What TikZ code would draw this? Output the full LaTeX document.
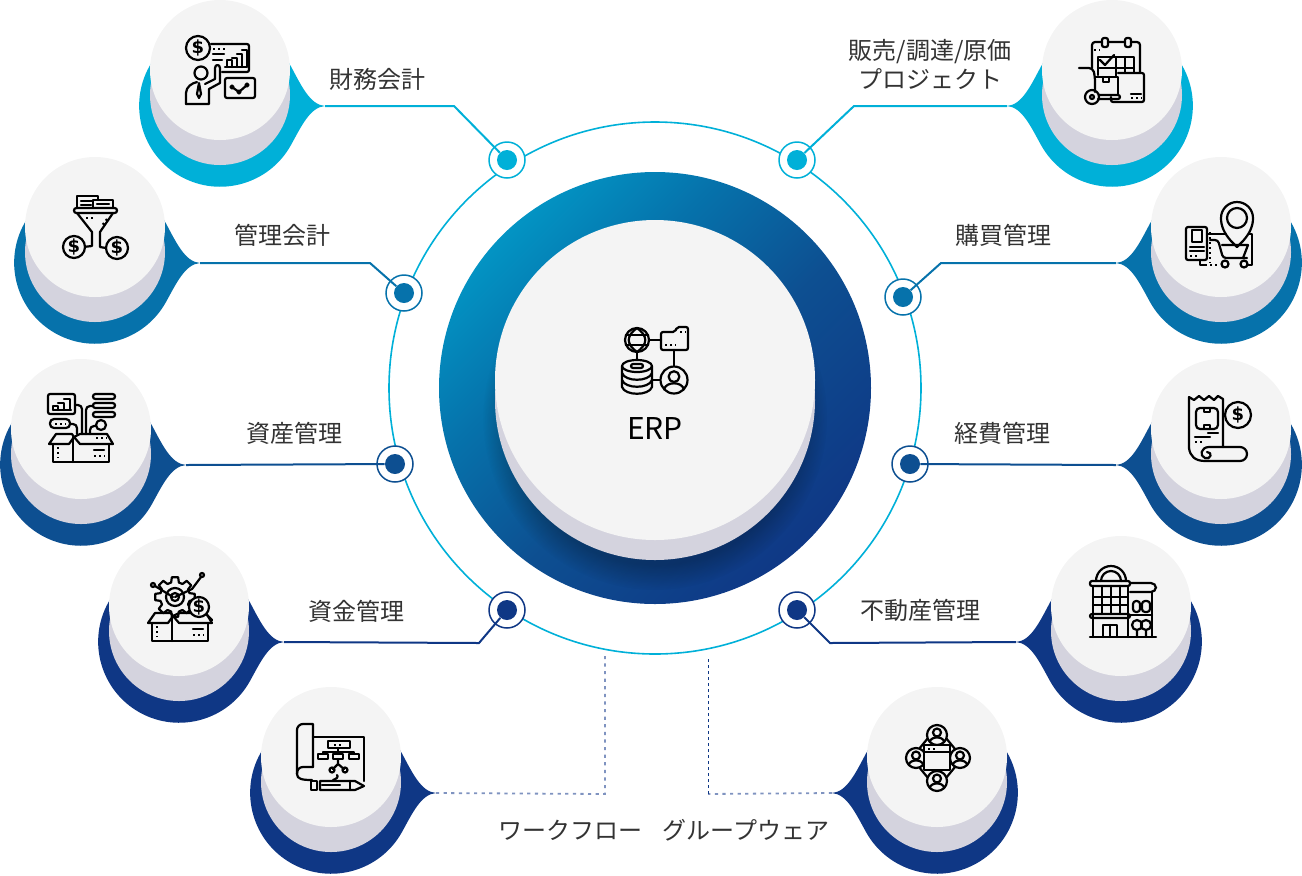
\documentclass[tikz,border=0pt]{standalone}
\usepackage{fontspec}
\setmainfont{Noto Sans CJK JP}
\newfontfamily\usdfont{DejaVu Sans}
\usetikzlibrary{fadings}
\definecolor{cyanb}{HTML}{00B0D8}
\definecolor{blueb}{HTML}{0672AB}
\definecolor{navyb}{HTML}{0D4F91}
\definecolor{deepb}{HTML}{0F3785}
\definecolor{greyb}{HTML}{D4D3DE}
\definecolor{paleb}{HTML}{F4F4F4}
\definecolor{inkb}{HTML}{333333}
\definecolor{laneb}{HTML}{7F93C0}
\pgfdeclareverticalshading{hubfade}{100bp}{
  color(0bp)=(deepb); color(24bp)=(deepb); color(46bp)=(navyb);
  color(62bp)=(blueb); color(86bp)=(cyanb); color(100bp)=(cyanb)}

% name, x, y, side, colour
\newcommand{\badge}[5]{%
  \begin{scope}[shift={(#2,#3)},xscale=#4]
    \fill[#5] (105,36) .. controls (90,37) and (81,57) .. (71,75) arc (29:331:81)
      .. controls (81,15) and (90,35) .. (105,36) -- cycle;
    \fill[greyb] (0,25) circle [radius=70];
    \coordinate (#1) at (105,36);
  \end{scope}
  \node[disc] (#1disc) at (#2,#3) {};}
% name, x, y, radius
\newcommand{\coin}[4]{%
  \draw[ico, fill=paleb] (#2,#3) circle [radius=#4];
  \node[usd] (#1) at (#2,#3) {\$};}
% x, y, radius
\newcommand{\usr}[3]{%
  \begin{scope}[shift={(#1,#2)},scale=#3]
    \draw[ico, fill=paleb] (0,0) circle [radius=1];
    \draw[ico] (0,-.25) circle [radius=.4];
    \draw[ico] (-.72,.68) .. controls (-.6,.1) and (.6,.1) .. (.72,.68);
  \end{scope}}
% x of the fold, y of the top
\newcommand{\crate}[2]{%
  \begin{scope}[shift={(#1,#2)}]
    \draw[ico, fill=paleb] (-20,10) -- (-20,28) -- (36,28) -- (36,10);
    \draw[ico] (-24,10) -- (-17,0) -- (-1,0) -- (1,3) -- (-4,10) -- cycle;
    \draw[ico] (1,3) -- (7,0) -- (34,0) -- (40,10) -- (7,10) -- cycle;
    \draw[ico] (0,3) -- (0,28);
    \draw[dotty] (-15,13) -- (-15,24);
    \draw[ico] (21,16) -- (31,16);
    \draw[dotty] (21,22) -- (32,22);
  \end{scope}}

\begin{document}
\begin{tikzpicture}[
    x=.5pt, y=-.5pt,
    disc/.style={circle, fill=paleb, minimum size=70pt, inner sep=0pt},
    lab/.style={font=\fontsize{12}{14.5}\selectfont, text=inkb, align=center, inner sep=0pt},
    halo/.style={circle, draw=#1, fill=white, line width=.75pt, minimum size=18pt, inner sep=0pt},
    pip/.style={circle, fill=#1, minimum size=10pt, inner sep=0pt},
    link/.style={draw=#1, line width=1pt},
    ico/.style={draw=black, line width=1.1pt, line join=round, line cap=round},
    dotty/.style={draw=black, line width=1.1pt, dash pattern=on 1pt off 1.5pt},
    usd/.style={font=\usdfont\bfseries\fontsize{9}{9}\selectfont, text=black, inner sep=0pt},
    lane/.style={draw=laneb, line width=.9pt, dash pattern=on 1.6pt off 2.2pt}
  ]
  \useasboundingbox (0,0) rectangle (1302,875);

  \draw[cyanb, line width=.8pt] (655,388) circle [radius=266];

  \path[shading=hubfade, shading angle=45] (655,388) circle [radius=216];
  \fill[black, opacity=.25, path fading=circle with fuzzy edge 15 percent] (655,418) circle [radius=172];
  \node[disc, fill=greyb, minimum size=160pt] (hubshade) at (655,400) {};
  \node[disc, minimum size=160pt] (hub) at (655,380) {};
  \node[font=\fontsize{15}{18}\selectfont, text=black, inner sep=0pt] (erp) at (655,428) {ERP};

  \badge{fin}{220}{70}{1}{cyanb}
  \badge{mgt}{95}{227}{1}{blueb}
  \badge{ast}{81}{429}{1}{navyb}
  \badge{fnd}{179}{606}{1}{deepb}
  \badge{wfl}{331}{757}{1}{deepb}
  \badge{prj}{1112}{70}{-1}{cyanb}
  \badge{buy}{1221}{227}{-1}{blueb}
  \badge{exp}{1221}{429}{-1}{navyb}
  \badge{est}{1121}{606}{-1}{deepb}
  \badge{grp}{937}{757}{-1}{deepb}

  \node[halo=cyanb] (finhalo) at (507,160) {};
  \node[halo=blueb] (mgthalo) at (404,293) {};
  \node[halo=navyb] (asthalo) at (395,464) {};
  \node[halo=deepb] (fndhalo) at (507,610) {};
  \node[halo=cyanb] (prjhalo) at (797,160) {};
  \node[halo=blueb] (buyhalo) at (903,297) {};
  \node[halo=navyb] (exphalo) at (910,464) {};
  \node[halo=deepb] (esthalo) at (797,610) {};
  \node[pip=cyanb] (finpip) at (507,160) {};
  \node[pip=blueb] (mgtpip) at (404,293) {};
  \node[pip=navyb] (astpip) at (395,464) {};
  \node[pip=deepb] (fndpip) at (507,610) {};
  \node[pip=cyanb] (prjpip) at (797,160) {};
  \node[pip=blueb] (buypip) at (903,297) {};
  \node[pip=navyb] (exppip) at (910,464) {};
  \node[pip=deepb] (estpip) at (797,610) {};

  \coordinate (finbend) at (454,106);
  \coordinate (mgtbend) at (370,263);
  \coordinate (fndbend) at (479,643);
  \coordinate (prjbend) at (854,106);
  \coordinate (buybend) at (941,263);
  \coordinate (estbend) at (830,643);
  \coordinate (wflbend) at (605,794);
  \coordinate (wflend)  at (605,656);
  \coordinate (grpbend) at (708,794);
  \coordinate (grpend)  at (708,657);

  \draw[link=cyanb] (fin) -- (finbend) -- (finpip);
  \draw[link=blueb] (mgt) -- (mgtbend) -- (mgtpip);
  \draw[link=navyb] (ast) -- (astpip);
  \draw[link=deepb] (fnd) -- (fndbend) -- (fndpip);
  \draw[link=cyanb] (prj) -- (prjbend) -- (prjpip);
  \draw[link=blueb] (buy) -- (buybend) -- (buypip);
  \draw[link=navyb] (exp) -- (exppip);
  \draw[link=deepb] (est) -- (estbend) -- (estpip);
  \draw[lane] (wfl) -- (wflbend) -- (wflend);
  \draw[lane] (grp) -- (grpbend);
  \draw[deepb, line width=.5pt, dash pattern=on 1.5pt off 1.5pt] (grpbend) -- (grpend);

  \node[lab] (finlab) at (377,79) {財務会計};
  \node[lab] (mgtlab) at (282,235) {管理会計};
  \node[lab] (astlab) at (294,433) {資産管理};
  \node[lab] (fndlab) at (356,611) {資金管理};
  \node[lab] (wfllab) at (570,830) {ワークフロー};
  \node[lab] (prjlab) at (930,64) {販売/調達/原価\\プロジェクト};
  \node[lab] (buylab) at (1003,235) {購買管理};
  \node[lab] (explab) at (1002,433) {経費管理};
  \node[lab] (estlab) at (920,610) {不動産管理};
  \node[lab] (grplab) at (746,830) {グループウェア};

  % hub
  \draw[ico] (637,340) circle [radius=12];
  \draw[ico] (637,328) .. controls (626,336) and (626,344) .. (637,352) .. controls (648,344) and (648,336) .. (637,328);
  \draw[ico] (626,335) -- (648,335) (626,345) -- (648,345);
  \draw[ico, rounded corners=1pt] (661,332) -- (675,332) -- (677,327) -- (688,327) -- (688,350) -- (661,350) -- cycle;
  \draw[dotty] (665,345) -- (676,345);
  \draw[dotty] (680,332) -- (686,332);
  \draw[ico] (649,340) -- (661,340) (637,352) -- (637,360) (674,350) -- (674,367) (653,380) -- (661,380);
  \draw[ico] (637,366) ellipse [x radius=15, y radius=6];
  \draw[ico, rounded corners=1pt] (631,364) rectangle (643,368);
  \draw[ico] (622,366) -- (622,387) .. controls (625,396) and (649,396) .. (652,387) -- (652,366);
  \draw[ico] (622,373) .. controls (625,382) and (649,382) .. (652,373);
  \draw[ico] (622,380) .. controls (625,389) and (649,389) .. (652,380);
  \usr{674}{380}{13.5}

  % finance
  \coin{finusd}{198}{48}{12}
  \draw[ico, rounded corners=1pt] (211,44) -- (249,44) -- (249,72) -- (222,72);
  \draw[ico] (225,67) -- (247,67) (227,67) -- (227,60) -- (232,60) -- (232,67) (232,58) -- (237,58) -- (237,67) (237,54) -- (242,54) -- (242,67) (242,50) -- (247,50) -- (247,67);
  \draw[dotty] (213,49) -- (225,49);
  \draw[ico] (213,54) -- (224,54) (213,60) -- (222,60);
  \draw[ico] (201,73) circle [radius=6.5];
  \draw[ico] (186,104) -- (186,93) .. controls (186,87) and (192,83) .. (197,82);
  \draw[ico] (186,104) -- (209,104) -- (209,89) -- (220,83) -- (220,68) .. controls (220,64) and (215,64) .. (215,68) -- (215,79) -- (205,84);
  \draw[ico] (199,83) -- (197,94) -- (199,98) -- (201,94) -- (199,83);
  \draw[ico, rounded corners=1pt] (225,78) rectangle (255,98);
  \draw[ico] (232,87) -- (239,92) -- (247,85);
  \draw[ico, fill=paleb] (232,87) circle [radius=1.6] (239,92) circle [radius=1.6] (247,85) circle [radius=1.6];

  % management
  \draw[ico] (77,208) -- (77,196) -- (98,196) -- (98,200);
  \draw[ico] (81,201) -- (93,201) (81,205) -- (91,205);
  \draw[ico] (93,208) -- (93,200) -- (113,200) -- (113,208);
  \draw[ico] (97,204) -- (109,204);
  \draw[ico, rounded corners=1.2pt] (74,208) rectangle (117,213);
  \draw[ico] (77,213) -- (92,232) -- (92,246) -- (83,247);
  \draw[ico] (113,213) -- (100,232) -- (100,247) -- (106,248);
  \draw[dotty] (86,218) -- (94,218);
  \draw[dotty] (107,219) -- (101,227);
  \coin{mgtusda}{74}{247}{11}
  \coin{mgtusdb}{117}{248}{11}

  % assets
  \draw[ico, rounded corners=1pt] (48,394) rectangle (75,414);
  \draw[ico] (53,410) -- (71,410) (53,410) -- (53,406) -- (58,406) -- (58,410) (58,403) -- (64,403) -- (64,410) (64,399) -- (70,399) -- (70,410);
  \draw[ico, rounded corners=1.2pt] (93,394) rectangle (115,399);
  \draw[ico, rounded corners=1.2pt] (93,403) rectangle (115,408);
  \draw[ico, rounded corners=1.2pt] (93,412) rectangle (115,417);
  \draw[ico, rounded corners=2pt] (75,405) -- (82,405) -- (82,434);
  \draw[ico, rounded corners=2pt] (93,406) -- (86,406) -- (86,434);
  \draw[ico, rounded corners=2pt] (50,419) rectangle (70,428);
  \draw[dotty] (55,424) -- (66,424);
  \draw[ico, rounded corners=2pt] (70,424) -- (77,424) -- (77,434);
  \draw[ico] (101,425) circle [radius=5];
  \draw[ico, rounded corners=2pt] (96,426) -- (90,426) -- (90,434);
  \crate{73}{434}
  \draw[dotty] (96,438) -- (107,438);

  % funds
  \begin{scope}[shift={(175,597)}]
    \draw[ico] foreach \a in {0,45,...,315} {(\a-15:15) -- (\a-9:20) -- (\a+9:20) -- (\a+15:15) arc (\a+15:\a+30:15)};
    \draw[ico] (0,0) circle [radius=9] (0,0) circle [radius=4];
  \end{scope}
  \draw[ico] (153,585) circle [radius=2] (155,586) -- (173,597);
  \draw[ico] (202,575) circle [radius=2] (201,577) -- (192,589) -- (175,597);
  \draw[ico] (205,613) -- (212,620);
  \crate{172}{613}
  \coin{fndusd}{199}{607}{10}

  % workflow
  \draw[ico] (313,767) -- (313,724) -- (303,724) arc (270:180:6) -- (297,774);
  \draw[ico] (297,774) .. controls (297,779) and (302,780) .. (312,780);
  \draw[ico] (313,767) -- (303,767) .. controls (299,767) and (297,770) .. (297,774);
  \draw[ico] (313,737) -- (364,737) -- (364,781);
  \draw[ico, fill=paleb] (328,741) rectangle (350,748);
  \draw[dotty] (334,745) -- (344,745);
  \draw[ico] (323,754) -- (323,752) -- (354,752) -- (354,754) (338,748) -- (338,754);
  \draw[ico] (318,754) rectangle (328,759) (333,754) rectangle (343,759) (349,754) rectangle (359,759);
  \draw[ico] (338,759) -- (338,764) -- (333,769) (338,764) -- (344,769);
  \draw[ico] (332,770) circle [radius=2.5] (345,770) circle [radius=2.5];
  \draw[ico] (337,775) .. controls (339,777) and (336,779) .. (333,780);
  \draw[ico] (311,781) rectangle (317,790);
  \draw[ico] (320,781) -- (355,781) -- (364,786) -- (355,790) -- (320,790) -- cycle;
  \draw[ico] (322,785) -- (340,785) (350,781) -- (350,790);

  % project
  \draw[ico, rounded corners=1.5pt] (1092,68) -- (1092,42) -- (1140,42) -- (1140,73);
  \draw[ico, fill=paleb, rounded corners=1pt] (1102,38) rectangle (1108,47);
  \draw[ico, fill=paleb, rounded corners=1pt] (1125,38) rectangle (1131,47);
  \draw[dotty] (1094,50) -- (1100,50);
  \draw[ico] (1098,75) -- (1098,57) -- (1134,57) -- (1134,73);
  \draw[ico] (1098,68) -- (1134,68) (1116,57) -- (1116,77) (1125,57) -- (1125,73);
  \draw[ico] (1100,60) -- (1105,65) -- (1114,55);
  \draw[ico, fill=paleb, rounded corners=1pt] (1118,73) -- (1144,73) -- (1144,102) -- (1111,102) -- (1111,97);
  \draw[ico, fill=paleb] (1095,77) -- (1118,77) -- (1118,95);
  \draw[ico] (1103,77) -- (1103,82) -- (1109,82) -- (1109,77);
  \draw[ico, rounded corners=2pt] (1079,68) -- (1093,68) -- (1095,77) -- (1095,92);
  \draw[ico] (1092,97) circle [radius=7] (1092,97) circle [radius=2];
  \draw[ico, rounded corners=1pt] (1099,95) -- (1120,95) -- (1120,99) -- (1098,99);
  \draw[ico] (1131,94) -- (1141,94);
  \draw[dotty] (1131,98) -- (1142,98);

  % purchase
  \draw[ico] (1207,234) -- (1228,234) (1246,234) -- (1252,234) -- (1252,265) -- (1246,265);
  \draw[ico, fill=paleb] (1231,241) .. controls (1224,233) and (1221,226) .. (1221,218) arc (180:360:16) .. controls (1253,226) and (1250,233) .. (1243,241) -- (1237,247) -- cycle;
  \draw[ico] (1237,218) circle [radius=10];
  \draw[ico, fill=paleb, rounded corners=1pt] (1186,227) rectangle (1207,260);
  \draw[ico] (1192,230) rectangle (1202,242);
  \draw[ico] (1190,247) -- (1204,247) (1190,251) -- (1204,251);
  \draw[dotty] (1190,256) -- (1200,256);
  \draw[dotty] (1210,232) -- (1210,263);
  \draw[ico, rounded corners=1.5pt] (1210,240) -- (1218,240) -- (1223,258) -- (1247,258);
  \draw[ico] (1222,245) -- (1248,245) -- (1243,258);
  \draw[ico, fill=paleb] (1225,264) circle [radius=3.5] (1244,264) circle [radius=3.5];
  \draw[ico] (1200,260) -- (1200,265) -- (1205,265);
  \draw[dotty] (1205,265) -- (1220,265);

  % expense
  \draw[ico] (1189,448) -- (1189,397) -- (1194,400) -- (1199,396) -- (1204,400) -- (1209,396) -- (1214,400) -- (1218,396) -- (1223,399) -- (1223,447);
  \coin{expusd}{1238}{415}{13}
  \draw[ico, rounded corners=2pt] (1196,408) rectangle (1218,429);
  \draw[ico] (1204,408) rectangle (1210,412) (1204,425) rectangle (1210,429);
  \draw[ico] (1195,437) -- (1210,437) (1208,433) -- (1218,433);
  \draw[dotty] (1195,442) -- (1205,442);
  \draw[ico] (1189,448) .. controls (1190,456) and (1195,461) .. (1205,461) -- (1240,461) arc (90:-90:7) -- (1209,447)
    .. controls (1201,447) and (1199,456) .. (1205,458) .. controls (1211,460) and (1213,452) .. (1207,452);

  % estate
  \draw[ico] (1096,581) arc (180:360:15);
  \draw[ico] (1101,581) arc (180:360:10);
  \draw[ico, rounded corners=1pt] (1090,581) rectangle (1130,586);
  \draw[ico] (1093,586) -- (1093,637) (1128,586) -- (1128,637) (1090,637) -- (1156,637);
  \draw[ico] (1102,586) -- (1102,614) (1111,586) -- (1111,614) (1120,586) -- (1120,614) (1093,597) -- (1128,597) (1093,605) -- (1128,605);
  \draw[ico, rounded corners=1pt] (1090,614) rectangle (1130,618);
  \draw[ico] (1103,637) -- (1103,625) -- (1117,625) -- (1117,637) (1110,625) -- (1110,637);
  \draw[ico, rounded corners=2.5pt] (1130,592) -- (1156,592) -- (1156,583) -- (1130,583);
  \draw[ico] (1152,592) -- (1152,637) (1128,615) -- (1152,615);
  \draw[ico, rounded corners=1.5pt] (1133,601) rectangle (1140,612) (1142,601) rectangle (1150,612);
  \draw[ico] (1137,625) circle [radius=5] (1146,625) circle [radius=5] (1137,630) -- (1137,637) (1146,630) -- (1146,637);

  % groupware
  \draw[ico] (928,738) -- (919,749) (946,738) -- (955,749) (919,767) -- (928,778) (955,767) -- (946,778);
  \usr{937}{735}{10}
  \usr{916}{758}{10}
  \usr{960}{758}{10}
  \usr{937}{781}{10}
  \draw[ico, fill=paleb] (924,745) rectangle (950,770);
  \draw[ico] (924,752) -- (950,752);
  \draw[dotty] (928,749) -- (938,749);
\end{tikzpicture}
\end{document}
